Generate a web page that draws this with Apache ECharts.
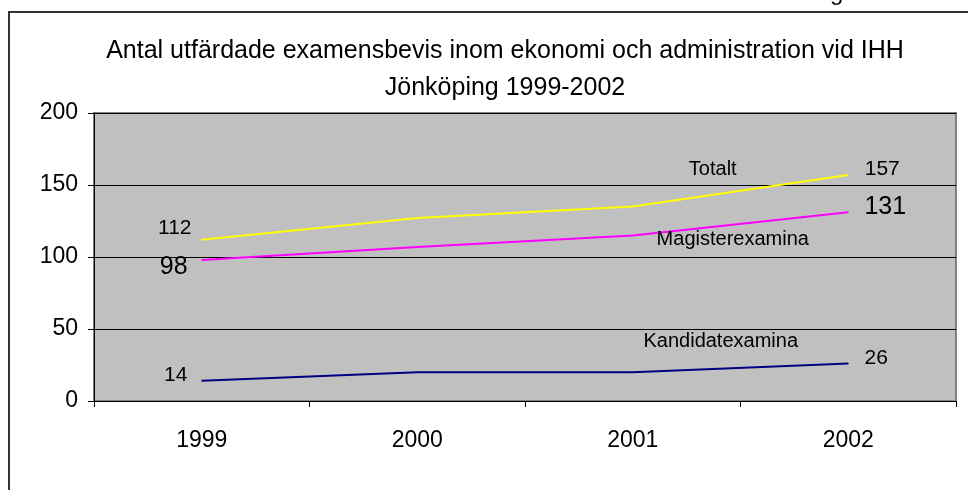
<!DOCTYPE html>
<html lang="sv">
  <head>
    <meta charset="UTF-8" />
    <title>Examensbevis IHH</title>
    <script src="https://cdn.jsdelivr.net/npm/echarts@6/dist/echarts.min.js"></script>
    <style>
      html, body { margin: 0; padding: 0; background: #fff; }
      #main { width: 968px; height: 490px; }
    </style>
  </head>
  <body>
    <div id="main"></div>
    <script>
      // data
      const years = ["1999", "2000", "2001", "2002"];
      const totalt = [112, 127, 135, 157];
      const magister = [98, 107, 115, 131];
      const kandidat = [14, 20, 20, 26];
      const yTicks = [0, 50, 100, 150, 200];

      const font = "Liberation Sans, Arial, sans-serif";

      // first/last point get the value, the 2001 point carries the series name
      function buildData(values, name, cfg) {
        return values.map((v, i) => {
          let item = { value: v };
          if (i === 0) {
            item.label = { show: true, offset: cfg.first, fontSize: cfg.firstSize };
          } else if (i === values.length - 1) {
            item.label = { show: true, offset: cfg.last, fontSize: cfg.lastSize };
          } else if (i === 2) {
            item.label = { show: true, offset: cfg.name, fontSize: 20, formatter: name };
          }
          return item;
        });
      }

      function lineSeries(name, values, color, cfg) {
        return {
          name: name,
          type: "line",
          data: buildData(values, name, cfg),
          symbol: "circle",
          symbolSize: 1,
          itemStyle: { color: color },
          lineStyle: { color: color, width: 2 },
          label: {
            show: false,
            position: "inside",
            color: "#000",
            fontFamily: font,
          },
          emphasis: { disabled: true },
        };
      }

      let chart = echarts.init(document.getElementById("main"));

      let options = {
        animation: false,
        title: {
          text: "Antal utfärdade examensbevis inom ekonomi och administration vid IHH\nJönköping 1999-2002",
          left: 500,
          textAlign: "center",
          top: 28,
          textStyle: {
            fontFamily: font,
            fontWeight: "normal",
            fontSize: 25,
            lineHeight: 37,
            color: "#000",
          },
        },
        graphic: [
          {
            type: "rect",
            shape: { x: 9, y: 12, width: 1000, height: 520 },
            style: { fill: "none", stroke: "#333", lineWidth: 2 },
            silent: true,
          },
          {
            type: "text",
            x: 830,
            y: 5,
            style: {
              text: "g",
              font: "24px Liberation Sans",
              fill: "#000",
              verticalAlign: "bottom",
            },
            silent: true,
          },
        ],
        grid: {
          left: 94,
          top: 113,
          right: 12,
          bottom: 89,
          show: true,
          backgroundColor: "#c0c0c0",
          borderColor: "#808080",
          borderWidth: 2,
        },
        xAxis: {
          type: "category",
          data: years,
          boundaryGap: true,
          axisLine: { lineStyle: { color: "#000", width: 1 } },
          axisTick: { show: true, length: 6, lineStyle: { color: "#000" } },
          axisLabel: {
            margin: 28,
            fontSize: 23,
            fontFamily: font,
            color: "#000",
          },
        },
        yAxis: {
          type: "value",
          min: yTicks[0],
          max: yTicks[yTicks.length - 1],
          interval: 50,
          axisLine: { show: true, lineStyle: { color: "#000", width: 1 } },
          axisTick: { show: true, length: 6, lineStyle: { color: "#000" } },
          axisLabel: {
            margin: 16,
            fontSize: 23,
            fontFamily: font,
            color: "#000",
          },
          splitLine: { show: true, lineStyle: { color: "#000", width: 1 } },
        },
        series: [
          lineSeries("Totalt", totalt, "#ffff00", {
            first: [-27, -12], firstSize: 21,
            name: [80, -37],
            last: [34, -6], lastSize: 21,
          }),
          lineSeries("Magisterexamina", magister, "#ff00ff", {
            first: [-28, 7], firstSize: 25,
            name: [100, 4],
            last: [37, -5], lastSize: 25,
          }),
          lineSeries("Kandidatexamina", kandidat, "#000080", {
            first: [-26, -6], firstSize: 21,
            name: [88, -31],
            last: [28, -5], lastSize: 21,
          }),
        ],
      };

      chart.setOption(options);
    </script>
  </body>
</html>
